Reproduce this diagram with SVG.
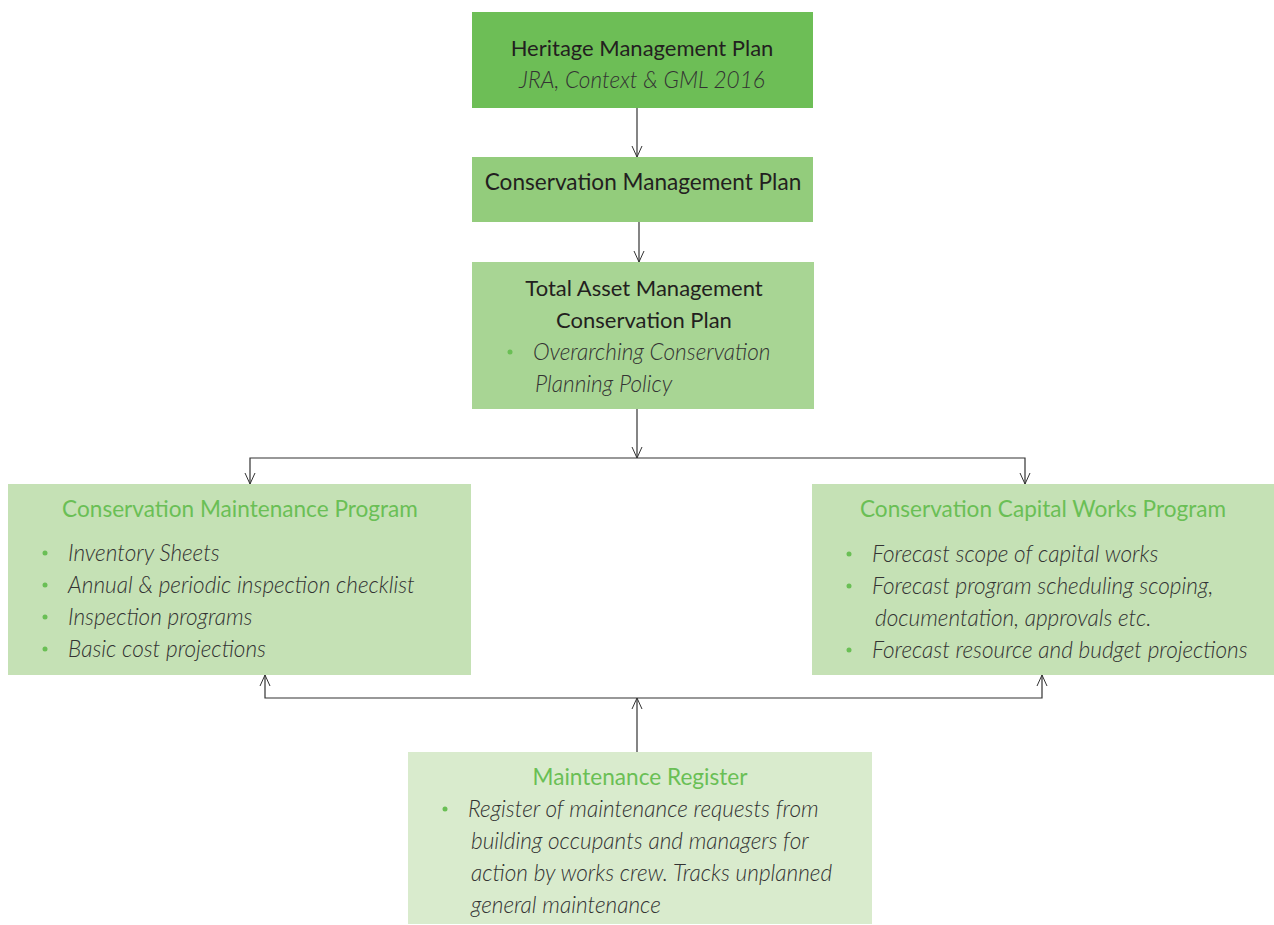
<svg xmlns="http://www.w3.org/2000/svg" width="1274" height="925" viewBox="0 0 1274 925">
<defs>
<marker id="arr" viewBox="0 0 12 12" refX="12" refY="6" markerWidth="12" markerHeight="12" markerUnits="userSpaceOnUse" orient="auto">
<path d="M1,1 L12,6 L1,11" fill="none" stroke="#333" stroke-width="1"/>
</marker>
<style>
.t{font-family:Lato,"Liberation Sans",sans-serif;font-size:22px;fill:#231f20}
.h{font-family:Lato,"Liberation Sans",sans-serif;font-size:22.6px;fill:#6abf55}
.i{font-family:Lato,"Liberation Sans",sans-serif;font-size:22.6px;font-style:italic;font-weight:300;fill:#333}
.b{fill:#6abf55}
.c{fill:none;stroke:#333;stroke-width:1.2}
</style>
</defs>
<rect width="1274" height="925" fill="#fff"/>
<g id="connectors">
<path class="c" d="M637,108 V157" marker-end="url(#arr)"/>
<path class="c" d="M639,222 V262" marker-end="url(#arr)"/>
<path class="c" d="M637,409 V458" marker-end="url(#arr)"/>
<path class="c" d="M637,458 H250 V484" marker-end="url(#arr)"/>
<path class="c" d="M637,458 H1025 V484" marker-end="url(#arr)"/>
<path class="c" d="M637,752 V698" marker-end="url(#arr)"/>
<path class="c" d="M637,698 H265 V675" marker-end="url(#arr)"/>
<path class="c" d="M637,698 H1042 V675" marker-end="url(#arr)"/>
</g>
<g id="hmp">
<rect x="472" y="12" width="341" height="96" fill="#6dbe56"/>
<text class="t" x="642" y="56" text-anchor="middle">Heritage Management Plan</text>
<text class="i" x="642" y="88" text-anchor="middle">JRA, Context &amp; GML 2016</text>
</g>
<g id="cmp">
<rect x="472" y="157" width="341" height="65" fill="#93cc7c"/>
<text class="t" x="643" y="190" text-anchor="middle" style="font-size:22.6px">Conservation Management Plan</text>
</g>
<g id="tam">
<rect x="472" y="262" width="342" height="147" fill="#a8d594"/>
<text class="t" x="644" y="296" text-anchor="middle">Total Asset Management</text>
<text class="t" x="644" y="328" text-anchor="middle">Conservation Plan</text>
<circle class="b" cx="510" cy="352" r="2.5"/>
<text class="i" x="533" y="360">Overarching Conservation</text>
<text class="i" x="535" y="392">Planning Policy</text>
</g>
<g id="cmprog">
<rect x="8" y="484" width="463" height="191" fill="#c5e1b5"/>
<text class="h" x="240" y="517" text-anchor="middle">Conservation Maintenance Program</text>
<circle class="b" cx="45" cy="553" r="2.5"/>
<text class="i" x="68" y="561">Inventory Sheets</text>
<circle class="b" cx="45" cy="585" r="2.5"/>
<text class="i" x="68" y="593">Annual &amp; periodic inspection checklist</text>
<circle class="b" cx="45" cy="617" r="2.5"/>
<text class="i" x="68" y="625">Inspection programs</text>
<circle class="b" cx="45" cy="649" r="2.5"/>
<text class="i" x="68" y="657">Basic cost projections</text>
</g>
<g id="ccwp">
<rect x="812" y="484" width="462" height="191" fill="#c5e1b5"/>
<text class="h" x="1043" y="517" text-anchor="middle">Conservation Capital Works Program</text>
<circle class="b" cx="849" cy="554" r="2.5"/>
<text class="i" x="872" y="562">Forecast scope of capital works</text>
<circle class="b" cx="849" cy="586" r="2.5"/>
<text class="i" x="872" y="594">Forecast program scheduling scoping,</text>
<text class="i" x="875" y="626">documentation, approvals etc.</text>
<circle class="b" cx="849" cy="650" r="2.5"/>
<text class="i" x="872" y="658">Forecast resource and budget projections</text>
</g>
<g id="mr">
<rect x="408" y="752" width="464" height="172" fill="#d9ebcd"/>
<text class="h" x="640" y="785" text-anchor="middle">Maintenance Register</text>
<circle class="b" cx="445" cy="809" r="2.5"/>
<text class="i" x="468" y="817">Register of maintenance requests from</text>
<text class="i" x="471" y="849">building occupants and managers for</text>
<text class="i" x="471" y="881">action by works crew. Tracks unplanned</text>
<text class="i" x="471" y="913">general maintenance</text>
</g>
</svg>
